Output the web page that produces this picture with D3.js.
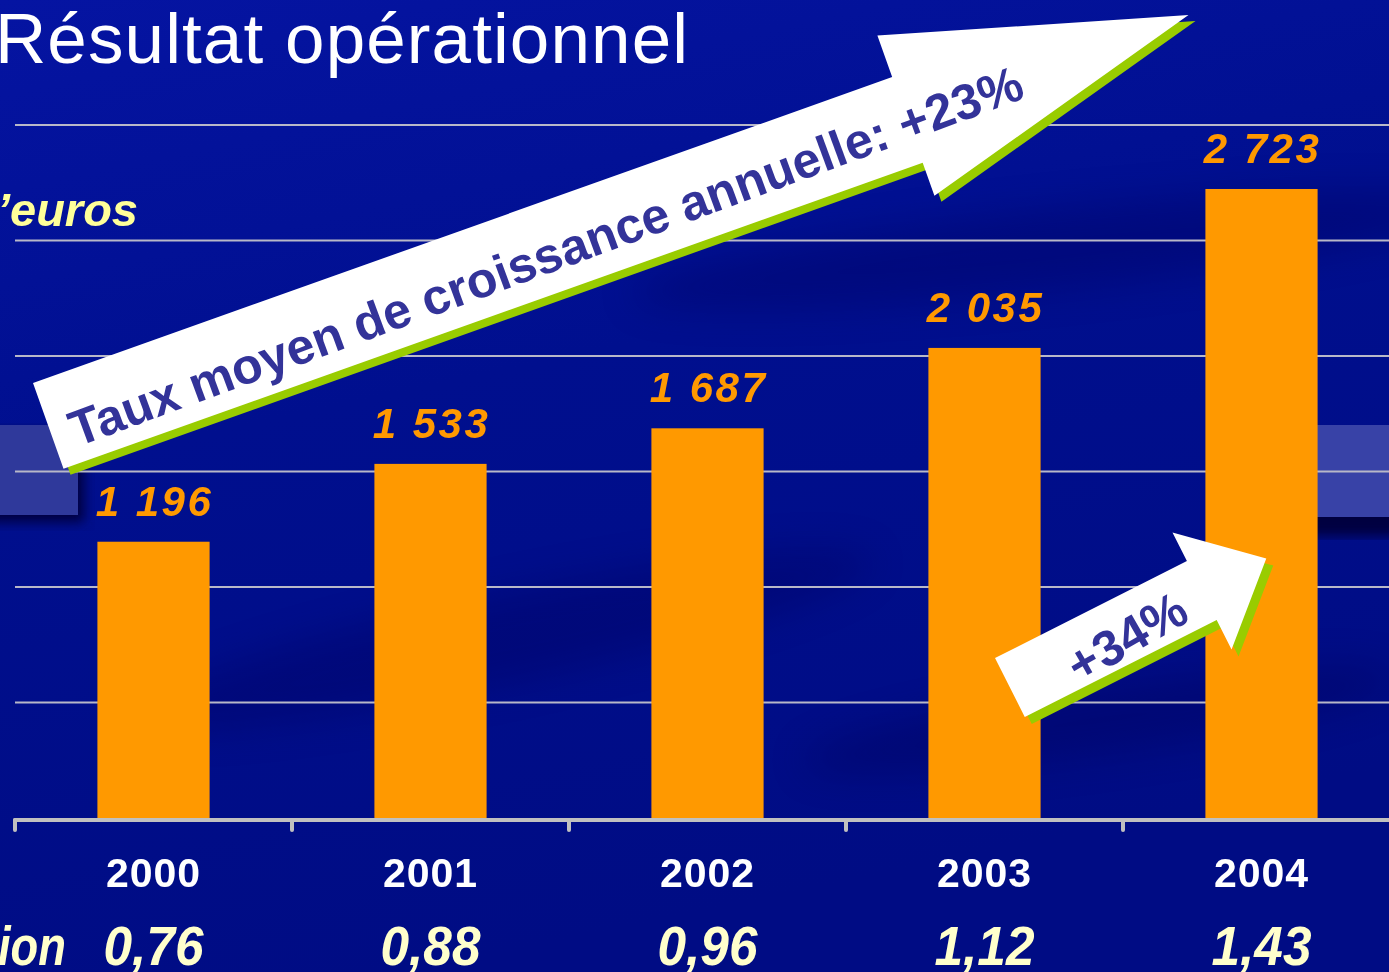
<!DOCTYPE html>
<html>
<head>
<meta charset="utf-8">
<script src="https://cdnjs.cloudflare.com/ajax/libs/d3/7.8.5/d3.min.js"></script>
<style>
  body { margin: 0; background: #000e8a; overflow: hidden; }
  svg { display: block; }
</style>
</head>
<body>
<svg id="vis-svg"></svg>
<script>
// chart values
const years = ["2000", "2001", "2002", "2003", "2004"];
const resultat = [1196, 1533, 1687, 2035, 2723];   // millions d'euros
const parAction = ["0,76", "0,88", "0,96", "1,12", "1,43"];
const yTicks = [500, 1000, 1500, 2000, 2500, 3000];

const titleText = "Résultat opérationnel";
const unitText = "’euros";
const rowText = "ion";
const bigArrowText = "Taux moyen de croissance annuelle: +23%";
const smallArrowText = "+34%";

const W = 1389, H = 972;
const fmt = d3.formatLocale({ decimal: ",", thousands: " ", grouping: [3] }).format(",d");

const svg = d3.select("#vis-svg")
    .attr("width", W)
    .attr("height", H);

const defs = svg.append("defs");

// background gradient
const bg = defs.append("linearGradient")
    .attr("id", "bg")
    .attr("x1", 0).attr("y1", 0).attr("x2", 0.3).attr("y2", 1);
bg.append("stop").attr("offset", 0).attr("stop-color", "#0514a2");
bg.append("stop").attr("offset", 0.45).attr("stop-color", "#000f8e");
bg.append("stop").attr("offset", 1).attr("stop-color", "#000c84");

defs.append("filter").attr("id", "blur")
    .append("feGaussianBlur").attr("stdDeviation", 6);
defs.append("filter").attr("id", "blur2")
    .append("feGaussianBlur").attr("stdDeviation", 18);

svg.append("rect").attr("width", W).attr("height", H).attr("fill", "url(#bg)");

// faint darker streaks in the background
const streaks = svg.append("g").attr("filter", "url(#blur2)").attr("opacity", 0.35);
streaks.append("ellipse").attr("cx", 1050).attr("cy", 250).attr("rx", 420).attr("ry", 40)
    .attr("fill", "#000660").attr("transform", "rotate(-6 1050 250)");
streaks.append("ellipse").attr("cx", 500).attr("cy", 640).attr("rx", 380).attr("ry", 45)
    .attr("fill", "#000660").attr("transform", "rotate(-12 500 640)");
streaks.append("ellipse").attr("cx", 1100).attr("cy", 720).attr("rx", 300).attr("ry", 35)
    .attr("fill", "#00055a").attr("transform", "rotate(-8 1100 720)");

// light band on the left and right side (with dark shadow)
svg.append("rect").attr("x", -20).attr("y", 432).attr("width", 104).attr("height", 90)
    .attr("fill", "#000440").attr("filter", "url(#blur)");
svg.append("rect").attr("x", -10).attr("y", 425).attr("width", 88).attr("height", 90)
    .attr("fill", "#2f399b");
svg.append("rect").attr("x", 1300).attr("y", 500).attr("width", 100).attr("height", 36)
    .attr("fill", "#000440").attr("filter", "url(#blur)");
svg.append("rect").attr("x", 1300).attr("y", 425).attr("width", 100).attr("height", 92)
    .attr("fill", "#3842a7");

// scales
const xScale = d3.scaleBand()
    .domain(years)
    .range([15, 1400])
    .paddingInner(0.595)
    .paddingOuter(0.2975);

const yScale = d3.scaleLinear()
    .domain([0, 3000])
    .range([818, 125]);

const tickX = d => xScale(d) - xScale.step() * xScale.paddingInner() / 2;

// gridlines
svg.append("g").attr("class", "grid")
    .selectAll("line")
    .data(yTicks)
    .enter()
        .append("line")
        .attr("x1", 15)
        .attr("x2", W)
        .attr("y1", d => yScale(d))
        .attr("y2", d => yScale(d))
        .attr("stroke", "#b8b8c8")
        .attr("stroke-width", 2);

// bars
const data = years.map((y, i) => ({ year: y, value: resultat[i], eps: parAction[i] }));

svg.append("g").attr("class", "bars")
    .selectAll("rect")
    .data(data)
    .enter()
        .append("rect")
        .attr("x", d => xScale(d.year))
        .attr("y", d => yScale(d.value))
        .attr("width", xScale.bandwidth())
        .attr("height", d => yScale(0) - yScale(d.value))
        .attr("fill", "#ff9900");

// value labels
svg.append("g").attr("class", "values")
    .selectAll("text")
    .data(data)
    .enter()
        .append("text")
        .attr("x", d => xScale(d.year) + xScale.bandwidth() / 2 + 1)
        .attr("y", d => yScale(d.value) - 26)
        .attr("text-anchor", "middle")
        .attr("font-family", "Liberation Sans, Arial, sans-serif")
        .attr("font-weight", "bold")
        .attr("font-style", "italic")
        .attr("font-size", 42)
        .attr("letter-spacing", 2.5)
        .attr("fill", "#ff9900")
        .text(d => fmt(d.value));

// x axis: baseline with ticks on band boundaries
const axisG = svg.append("g").attr("class", "xAxis")
    .attr("stroke", "#c0c0c0")
    .attr("stroke-linecap", "round");
axisG.append("line")
    .attr("x1", 15).attr("x2", W + 10)
    .attr("y1", yScale(0) + 2).attr("y2", yScale(0) + 2)
    .attr("stroke-width", 4);
axisG.selectAll("line.tick")
    .data(years)
    .enter()
        .append("line")
        .attr("class", "tick")
        .attr("x1", d => tickX(d)).attr("x2", d => tickX(d))
        .attr("y1", yScale(0) + 2).attr("y2", yScale(0) + 12)
        .attr("stroke-width", 4);

// year labels
svg.append("g").attr("class", "years")
    .selectAll("text")
    .data(data)
    .enter()
        .append("text")
        .attr("x", d => xScale(d.year) + xScale.bandwidth() / 2)
        .attr("y", 887)
        .attr("text-anchor", "middle")
        .attr("font-family", "Liberation Sans, Arial, sans-serif")
        .attr("font-weight", "bold")
        .attr("font-size", 41)
        .attr("letter-spacing", 1)
        .attr("fill", "#ffffff")
        .text(d => d.year);

// per-share row (condensed italic)
svg.append("g").attr("class", "eps")
    .selectAll("text")
    .data(data)
    .enter()
        .append("text")
        .attr("x", d => xScale(d.year) + xScale.bandwidth() / 2 - 50)
        .attr("y", 965)
        .attr("font-family", "Liberation Sans, Arial, sans-serif")
        .attr("font-weight", "bold")
        .attr("font-style", "italic")
        .attr("font-size", 55)
        .attr("textLength", 100)
        .attr("lengthAdjust", "spacingAndGlyphs")
        .attr("fill", "#ffffcc")
        .text(d => d.eps);

svg.append("text")
    .attr("x", -2).attr("y", 965)
    .attr("font-family", "Liberation Sans, Arial, sans-serif")
    .attr("font-weight", "bold")
    .attr("font-style", "italic")
    .attr("font-size", 55)
    .attr("textLength", 68)
    .attr("lengthAdjust", "spacingAndGlyphs")
    .attr("fill", "#ffffcc")
    .text(rowText);

// unit label
svg.append("text")
    .attr("x", 138).attr("y", 226)
    .attr("text-anchor", "end")
    .attr("font-family", "Liberation Sans, Arial, sans-serif")
    .attr("font-weight", "bold")
    .attr("font-style", "italic")
    .attr("font-size", 47)
    .attr("fill", "#ffff99")
    .text(unitText);

// title
svg.append("text")
    .attr("x", -5).attr("y", 63)
    .attr("font-family", "Liberation Sans, Arial, sans-serif")
    .attr("font-size", 71)
    .attr("textLength", 693)
    .attr("fill", "#ffffff")
    .text(titleText);

// arrows: drawn in a local frame (u along, v across), then rotated into place
function arrowPoints(len, thick, headTop, headBot, tip) {
    return [
        [0, 0], [len, 0], [len, headTop], [tip, (headTop + headBot) / 2],
        [len, headBot], [len, thick], [0, thick]
    ];
}

function drawArrow(opts) {
    const g = svg.append("g")
        .attr("transform", `translate(${opts.x}, ${opts.y}) rotate(${opts.angle})`);
    const pts = arrowPoints(opts.len, opts.thick, opts.headTop, opts.headBot, opts.tip);
    const line = d3.line();
    // green shadow, offset down-right in screen space
    const a = -opts.angle * Math.PI / 180;
    const sx = opts.dx * Math.cos(a) - opts.dy * Math.sin(a);
    const sy = opts.dx * Math.sin(a) + opts.dy * Math.cos(a);
    g.append("path")
        .attr("d", line(pts.map(p => [p[0] + sx, p[1] + sy])) + "Z")
        .attr("fill", "#99cc00");
    g.append("path")
        .attr("d", line(pts) + "Z")
        .attr("fill", "#ffffff");
    g.append("text")
        .attr("x", opts.tx)
        .attr("y", opts.ty)
        .attr("text-anchor", opts.anchor)
        .attr("font-family", "Liberation Sans, Arial, sans-serif")
        .attr("font-weight", "bold")
        .attr("font-size", opts.fs)
        .attr("fill", "#333399")
        .attr("transform", opts.textRot ? `rotate(${opts.textRot} ${opts.tx} ${opts.ty})` : null)
        .text(opts.text);
}

drawArrow({
    x: 33, y: 383, angle: -19.6,
    len: 912, thick: 91, headTop: -44, headBot: 126, tip: 1212,
    dx: 7, dy: 6,
    tx: 20, ty: 75, anchor: "start", fs: 50, textRot: -0.6,
    text: bigArrowText
});

drawArrow({
    x: 995, y: 658, angle: -26.8,
    len: 215, thick: 66, headTop: -32, headBot: 99, tip: 287,
    dx: 7, dy: 7,
    tx: 128, ty: 58, anchor: "middle", fs: 50, textRot: -3,
    text: smallArrowText
});
</script>
</body>
</html>
